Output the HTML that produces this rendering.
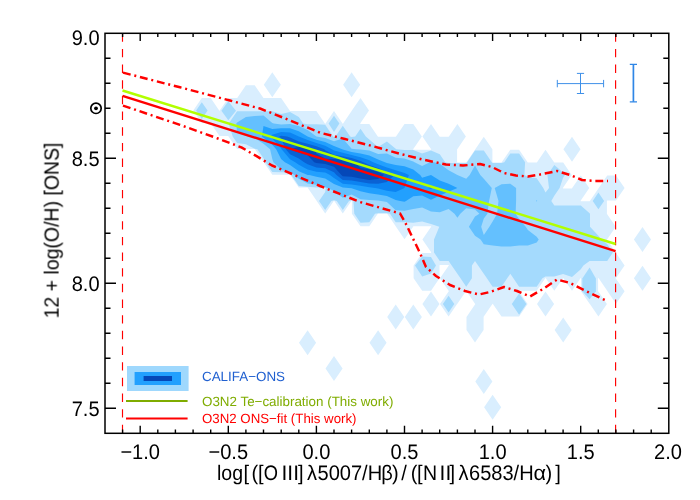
<!DOCTYPE html>
<html><head><meta charset="utf-8"><title>O3N2 calibration</title>
<style>html,body{margin:0;padding:0;background:#fff}svg{display:block}text{font-family:"Liberation Sans",sans-serif;fill:#000;text-rendering:geometricPrecision}</style>
</head><body>
<svg width="700" height="500" viewBox="0 0 700 500">
<rect x="0" y="0" width="700" height="500" fill="#fff"/>
<g stroke="none">
<path fill="#d9eefe" fill-rule="evenodd" d="M263.8 84.8L272.3 72.3L280.9 84.8L272.3 97.3ZM343.1 84.8L351.6 72.3L360.2 84.8L351.6 97.3ZM237.4 97.7L245.9 85.2L254.7 85.2L263.3 97.7L263.5 98.1L272.3 98.1L281.1 98.1L289.7 110.6L290.0 111.0L298.8 111.0L307.6 111.0L316.4 111.0L324.9 123.5L325.2 123.9L325.5 123.5L334.0 111.0L342.6 123.5L342.8 123.9L343.1 123.5L351.6 111.0L351.9 110.6L360.5 98.1L369.0 110.6L360.5 123.1L360.2 123.5L360.5 123.9L369.3 123.9L377.8 136.4L378.1 136.8L386.9 136.8L395.7 136.8L396.0 136.4L404.5 123.9L413.3 123.9L421.9 136.4L413.3 148.9L413.1 149.3L413.3 149.7L422.2 149.7L431.0 149.7L431.2 149.3L431.0 148.9L422.4 136.4L431.0 123.9L439.5 136.4L439.8 136.8L448.6 136.8L448.9 136.4L457.4 123.9L465.9 136.4L457.4 148.9L457.1 149.3L457.1 162.2L457.4 162.6L466.2 162.6L466.5 162.2L475.0 149.7L475.3 149.3L483.8 136.8L492.4 149.3L492.4 162.2L492.6 162.6L501.5 162.6L501.7 162.2L510.3 149.7L519.1 149.7L527.6 162.2L527.9 162.6L536.7 162.6L537.0 162.2L545.5 149.7L554.1 162.2L554.3 162.6L563.2 162.6L571.7 175.1L563.2 187.6L562.9 188.0L563.2 188.4L572.0 188.4L572.2 188.0L580.8 175.5L589.3 188.0L580.8 200.5L580.5 200.9L580.8 201.3L589.6 201.3L589.9 200.9L598.4 188.4L598.7 188.0L607.2 175.5L616.0 175.5L624.6 188.0L616.0 200.5L607.2 200.5L606.9 200.9L606.9 213.8L607.2 214.2L615.8 226.7L607.2 239.2L606.9 239.6L607.2 240.0L615.8 252.5L616.0 252.9L624.6 265.4L616.0 277.9L615.8 278.3L616.0 278.7L624.6 291.2L616.0 303.7L607.5 291.2L607.2 290.8L598.7 278.3L598.4 277.9L598.1 278.3L598.1 291.2L598.4 291.6L606.9 304.1L598.4 316.6L589.9 304.1L589.6 303.7L581.0 291.2L581.0 278.3L580.8 277.9L580.5 278.3L572.0 290.8L563.4 278.3L563.2 277.9L562.9 278.3L554.3 290.8L545.8 278.3L545.5 277.9L545.3 278.3L536.7 290.8L527.9 290.8L519.1 290.8L518.8 291.2L519.1 291.6L527.6 304.1L519.1 316.6L510.3 316.6L501.5 316.6L492.9 304.1L492.6 303.7L492.4 304.1L483.8 316.6L483.6 317.0L483.6 329.9L475.0 342.4L466.5 329.9L466.5 317.0L475.0 304.5L475.3 304.1L475.0 303.7L466.5 291.2L466.2 290.8L465.9 291.2L457.4 303.7L457.1 304.1L448.6 316.6L440.0 304.1L448.6 291.6L448.9 291.2L448.6 290.8L440.0 278.3L448.6 265.8L448.9 265.4L448.6 265.0L439.8 265.0L439.5 265.4L439.5 278.3L431.0 290.8L422.2 290.8L413.6 278.3L413.6 265.4L422.2 252.9L431.0 252.9L431.2 252.5L431.0 252.1L422.4 239.6L431.0 227.1L431.2 226.7L431.0 226.3L422.2 226.3L413.3 226.3L413.1 226.7L404.5 239.2L396.0 226.7L395.7 226.3L387.2 213.8L386.9 213.4L378.1 213.4L377.8 213.8L369.3 226.3L360.5 226.3L351.9 213.8L351.9 200.9L351.6 200.5L351.4 200.9L342.8 213.4L334.3 200.9L334.0 200.5L333.8 200.9L325.2 213.4L316.7 200.9L316.4 200.5L307.9 188.0L307.6 187.6L298.8 187.6L290.2 175.1L290.0 174.7L281.1 174.7L272.3 174.7L263.8 162.2L263.5 161.8L255.0 149.3L254.7 148.9L245.9 148.9L237.1 148.9L228.5 136.4L228.3 136.0L219.5 136.0L210.9 123.5L210.7 123.1L201.8 123.1L193.3 110.6L201.8 98.1L210.7 98.1L219.2 110.6L219.5 111.0L219.7 110.6L228.3 98.1L237.1 98.1ZM325.2 187.6L324.9 188.0L325.2 188.4L325.5 188.0ZM563.4 149.3L572.0 136.8L580.5 149.3L572.0 161.8ZM633.9 239.6L642.5 227.1L651.0 239.6L642.5 252.1ZM633.9 278.3L642.5 265.8L651.0 278.3L642.5 290.8ZM422.4 304.1L431.0 291.6L439.5 304.1L431.0 316.6ZM537.0 304.1L545.5 291.6L554.1 304.1L545.5 316.6ZM387.2 317.0L395.7 304.5L404.3 317.0L395.7 329.5ZM404.8 317.0L413.3 304.5L421.9 317.0L413.3 329.5ZM554.6 329.9L563.2 317.4L571.7 329.9L563.2 342.4ZM299.0 342.8L307.6 330.3L316.1 342.8L307.6 355.3ZM369.5 342.8L378.1 330.3L386.6 342.8L378.1 355.3ZM325.5 368.6L334.0 356.1L342.6 368.6L334.0 381.1ZM475.3 381.5L483.8 369.0L492.4 381.5L483.8 394.0ZM484.1 407.3L492.6 394.8L501.2 407.3L492.6 419.8Z"/>
<path fill="#a4dafd" fill-rule="evenodd" d="M196.1 110.6L201.8 102.2L207.6 110.6L201.8 119.0ZM228.7 123.5L237.1 111.3L245.9 111.3L254.7 111.3L263.5 111.3L272.3 111.3L281.1 113.9L290.0 111.9L298.8 117.1L303.2 123.5L307.6 124.2L316.4 124.2L325.2 124.8L333.1 136.4L334.0 137.1L335.5 136.4L342.8 125.7L350.2 136.4L351.6 137.1L355.2 136.4L360.5 128.7L365.8 136.4L369.3 139.6L378.1 147.1L386.9 141.6L395.7 148.7L396.2 149.3L404.5 150.0L413.3 150.0L422.1 153.4L431.0 150.6L439.8 154.2L445.2 162.2L448.6 162.9L457.4 162.9L466.2 162.9L467.1 162.2L475.0 150.6L483.8 150.6L491.8 162.2L492.6 162.9L501.5 162.9L504.3 162.2L510.3 153.4L519.1 153.4L525.1 162.2L524.4 175.1L527.9 177.0L536.7 178.3L543.3 188.0L545.5 192.5L549.0 188.0L547.4 175.1L554.3 164.9L563.1 172.5L564.9 175.1L563.1 177.7L559.6 188.0L554.3 195.7L551.3 200.9L554.3 205.4L563.1 205.4L572.0 205.4L580.8 205.4L589.6 213.2L590.0 213.8L590.0 226.7L598.4 235.7L601.0 239.6L607.2 244.1L612.9 252.5L607.2 260.9L598.4 260.9L589.6 260.9L583.4 265.4L580.8 269.3L572.0 277.0L563.1 274.0L554.3 276.5L545.5 276.5L542.4 278.3L536.7 286.7L527.9 286.7L519.1 286.7L513.4 278.3L510.3 273.8L507.2 278.3L501.5 286.7L492.6 286.7L486.9 278.3L483.8 273.8L478.1 265.4L475.0 260.9L471.9 265.4L471.9 278.3L466.2 286.7L460.5 278.3L457.4 273.8L451.7 265.4L448.6 260.9L439.8 260.9L434.0 252.5L434.0 239.6L439.3 226.7L431.0 224.1L422.1 221.5L413.3 222.8L404.5 222.2L395.7 222.2L390.0 213.8L386.9 213.2L378.1 213.2L375.0 213.8L369.3 222.2L360.5 222.8L354.3 213.8L353.4 200.9L351.6 200.3L349.0 200.9L342.8 209.9L336.7 200.9L334.0 200.3L331.4 200.9L325.2 209.9L319.0 200.9L325.2 191.9L325.7 188.0L325.2 187.4L316.4 187.4L307.6 186.7L298.8 186.1L291.3 175.1L290.0 172.5L281.1 172.3L272.3 171.9L265.7 162.2L263.5 158.3L257.4 149.3L254.7 148.7L245.9 144.2L237.1 142.9L232.7 136.4ZM592.7 200.9L598.4 192.5L604.1 200.9L598.4 209.3ZM442.9 304.1L448.6 295.7L454.3 304.1L448.6 312.5ZM511.8 304.1L519.1 293.4L526.4 304.1L519.1 314.8Z"/>
<path fill="#64c0fe" fill-rule="evenodd" d="M236.3 123.5L237.1 122.4L245.9 116.9L254.7 115.9L263.5 115.6L272.3 122.9L273.8 123.5L281.1 124.5L290.0 124.0L298.8 126.1L307.6 130.0L316.4 136.4L316.4 136.4L325.2 138.0L334.0 141.2L342.8 138.4L351.6 148.7L356.1 149.3L360.5 149.5L369.3 150.5L378.1 153.9L386.9 153.4L395.7 157.8L404.5 158.5L413.3 161.6L414.5 162.2L422.1 165.9L429.8 162.2L431.0 161.6L433.9 162.2L439.8 163.8L448.6 170.3L457.4 175.1L457.4 175.1L466.2 178.8L469.7 175.1L475.0 165.4L480.3 175.1L483.8 178.8L491.8 188.0L489.1 200.9L487.4 213.8L483.8 218.5L481.2 226.7L483.8 234.9L489.4 226.7L492.6 221.5L497.1 213.8L498.5 200.9L494.7 188.0L501.5 184.3L510.3 183.7L516.1 188.0L516.1 200.9L515.6 213.8L519.1 219.0L525.7 226.7L527.9 229.9L536.7 236.7L538.7 239.6L536.7 242.5L527.9 245.6L519.1 245.6L510.3 246.5L501.5 246.5L492.6 245.6L483.8 244.3L480.6 239.6L475.0 235.7L468.9 226.7L475.0 216.4L479.4 213.8L475.0 209.5L466.2 208.3L460.3 213.8L457.4 217.7L454.5 213.8L448.6 209.0L439.8 212.2L431.0 211.5L422.1 207.4L413.3 209.0L404.5 210.7L395.7 210.2L386.9 202.1L381.0 200.9L378.1 200.6L369.3 199.9L360.5 199.3L351.6 194.6L342.8 197.7L334.0 191.0L327.4 188.0L325.2 187.2L316.4 184.8L307.6 183.6L298.8 178.8L294.4 175.1L290.0 172.2L281.1 169.7L273.4 162.2L272.3 159.0L270.1 149.3L263.5 143.8L254.7 138.1L248.1 136.4L245.9 135.8L237.1 132.1ZM536.2 200.9L536.7 200.0L537.2 200.9L536.7 201.6Z"/>
<path fill="#22a0fe" fill-rule="evenodd" d="M261.8 136.4L263.5 126.1L272.3 129.0L281.1 128.2L290.0 128.3L298.8 131.3L307.6 136.4L307.6 136.4L316.4 139.7L325.2 141.9L334.0 146.0L342.2 149.3L342.8 149.5L351.6 152.1L360.5 153.4L369.3 155.4L378.1 159.5L384.9 162.2L386.9 162.9L395.7 164.9L404.5 166.2L413.3 169.6L420.2 175.1L422.1 177.7L431.0 175.1L439.8 180.6L448.6 183.7L457.4 188.0L448.6 191.7L439.8 195.4L431.0 199.8L422.1 195.4L413.3 196.3L406.0 200.9L404.5 201.8L400.1 200.9L395.7 200.1L386.9 196.1L378.1 194.6L369.3 193.3L360.5 191.2L351.6 188.3L348.7 188.0L342.8 187.6L334.0 183.9L325.2 178.6L316.4 176.7L309.3 175.1L307.6 174.9L298.8 171.2L290.0 165.1L284.9 162.2L281.1 159.0L276.2 149.3L272.3 144.8L263.5 137.7Z"/>
<path fill="#0c84f2" fill-rule="evenodd" d="M269.9 136.4L272.3 134.7L281.1 131.9L290.0 132.6L298.8 136.4L298.8 136.4L307.6 140.1L316.4 143.0L325.2 145.8L331.8 149.3L334.0 150.6L342.8 152.8L351.6 155.1L360.5 157.2L369.3 160.3L373.2 162.2L378.1 164.2L386.9 167.6L395.7 170.3L404.5 173.1L408.9 175.1L404.5 188.0L404.5 188.0L395.7 192.0L386.9 190.7L378.1 188.6L375.1 188.0L369.3 187.3L360.5 185.8L351.6 184.4L342.8 183.8L334.0 178.0L330.0 175.1L325.2 172.5L316.4 171.7L307.6 169.6L298.8 164.8L295.2 162.2L290.0 159.2L281.6 149.3L281.1 148.3L272.3 138.4ZM428.0 188.0L431.0 186.8L432.2 188.0L431.0 189.1Z"/>
<path fill="#0a62d4" fill-rule="evenodd" d="M279.2 136.4L281.1 135.7L287.0 136.4L290.0 137.6L298.8 141.6L307.6 143.8L316.4 146.3L324.3 149.3L325.2 150.2L334.0 154.7L342.8 156.2L351.6 158.1L360.5 161.1L363.4 162.2L369.3 164.9L378.1 168.1L386.9 172.3L394.5 175.1L386.9 182.1L378.1 183.7L369.3 183.6L360.5 182.1L351.6 180.5L342.8 180.0L336.5 175.1L334.0 172.3L325.2 168.2L316.4 167.4L307.6 164.3L304.1 162.2L298.8 158.5L290.0 154.3L285.8 149.3L281.1 138.4Z"/>
<path fill="#0548b8" fill-rule="evenodd" d="M290.0 149.3L298.8 146.7L307.6 147.5L314.9 149.3L316.4 153.6L325.2 158.8L334.0 158.9L342.8 159.5L351.6 161.0L354.9 162.2L360.5 167.9L369.3 169.3L378.1 172.0L384.0 175.1L378.1 178.9L369.3 179.9L360.5 178.4L351.6 176.7L342.8 176.3L341.4 175.1L334.0 166.7L325.2 163.9L316.4 163.1L314.2 162.2L307.6 155.2L298.8 152.4Z"/>
<polygon fill="#a4dafd" points="221.4,110.7 228.3,101.2 236.0,110.7 228.3,120.3"/>
<polygon fill="#a4dafd" points="328.6,123.5 334.0,115.7 339.4,123.5 334.0,132.0"/>
<polygon fill="#a4dafd" points="415.0,265.4 422.2,256.4 431.0,257.0 436.0,265.4 431.0,273.6 422.2,276.4"/>
<polygon fill="#a4dafd" points="589.6,267.5 582.3,278.4 582.3,291.2 589.6,299.2 595.9,291.2 595.9,278.4"/>
</g>
<g fill="none" stroke="#ff0000" stroke-width="2.45" stroke-dasharray="7.9 3.8 2.0 3.8" stroke-dashoffset="-0.5" stroke-linejoin="round"><path d="M122.5 72.5L180.0 87.3L230.0 100.5L260.0 108.5L284.0 118.0L320.0 132.7L345.0 139.0L372.0 146.0L400.0 153.8L423.0 159.6L446.0 164.5L463.0 165.5L480.0 164.0L492.0 167.0L504.0 173.0L516.0 175.5L528.0 176.5L540.0 174.5L557.0 171.0L570.0 175.0L582.0 180.0L595.0 181.0L608.0 181.0"/><path d="M122.5 105.4L180.0 124.9L215.0 137.4L241.4 147.4L257.0 156.4L272.0 165.5L292.0 174.0L320.0 186.0L360.0 202.0L400.0 213.4L405.0 222.0L420.0 253.0L426.0 267.0L436.0 276.0L450.0 285.0L465.0 291.0L479.0 294.5L490.0 292.0L504.0 287.0L517.0 291.0L530.0 296.5L543.0 289.0L557.0 279.5L570.0 283.0L590.0 293.0L607.0 301.0"/></g>
<g fill="none" stroke="#ff0000" stroke-width="1.15" stroke-dasharray="8.4 7.26"><path d="M122.5 33.3V433.3"/><path d="M615.6 33.3V433.3"/></g>
<path d="M122.5 95.9L615.6 251.2" stroke="#ff0000" stroke-width="2.45" fill="none"/>
<path d="M122.5 90.5L615.6 244.0" stroke="#b2ff00" stroke-width="2.45" fill="none"/>
<g fill="none" stroke="#3f90e8" stroke-width="1.0"><path d="M557.3 83.6H603.6M557.3 79.9V87.3M603.6 79.9V87.3M580.5 73.4V93.5M576.9 73.4H584.1M576.9 93.5H584.1"/></g>
<g fill="none" stroke="#2f86e6" stroke-width="1.7"><path d="M633.4 64.4V101.8"/><path d="M629.8 64.4H637M629.8 101.8H637" stroke-width="1.2"/></g>
<g stroke="#000" stroke-width="1.5" fill="none" stroke-linecap="square">
<rect x="105.0" y="33.3" width="563.8" height="400.0"/>
</g>
<g stroke="#000" stroke-width="1.4" fill="none">
<path d="M122.6 433.3v-3.8M122.6 33.3v3.8M140.2 433.3v-7.6M140.2 33.3v7.6M157.8 433.3v-3.8M157.8 33.3v3.8M175.4 433.3v-3.8M175.4 33.3v3.8M193.1 433.3v-3.8M193.1 33.3v3.8M210.7 433.3v-3.8M210.7 33.3v3.8M228.3 433.3v-7.6M228.3 33.3v7.6M245.9 433.3v-3.8M245.9 33.3v3.8M263.5 433.3v-3.8M263.5 33.3v3.8M281.2 433.3v-3.8M281.2 33.3v3.8M298.8 433.3v-3.8M298.8 33.3v3.8M316.4 433.3v-7.6M316.4 33.3v7.6M334.0 433.3v-3.8M334.0 33.3v3.8M351.6 433.3v-3.8M351.6 33.3v3.8M369.3 433.3v-3.8M369.3 33.3v3.8M386.9 433.3v-3.8M386.9 33.3v3.8M404.5 433.3v-7.6M404.5 33.3v7.6M422.1 433.3v-3.8M422.1 33.3v3.8M439.7 433.3v-3.8M439.7 33.3v3.8M457.4 433.3v-3.8M457.4 33.3v3.8M475.0 433.3v-3.8M475.0 33.3v3.8M492.6 433.3v-7.6M492.6 33.3v7.6M510.2 433.3v-3.8M510.2 33.3v3.8M527.8 433.3v-3.8M527.8 33.3v3.8M545.5 433.3v-3.8M545.5 33.3v3.8M563.1 433.3v-3.8M563.1 33.3v3.8M580.7 433.3v-7.6M580.7 33.3v7.6M598.3 433.3v-3.8M598.3 33.3v3.8M615.9 433.3v-3.8M615.9 33.3v3.8M633.6 433.3v-3.8M633.6 33.3v3.8M651.2 433.3v-3.8M651.2 33.3v3.8M105.0 408.3h11.0M668.8 408.3h-11.0M105.0 383.3h5.5M668.8 383.3h-5.5M105.0 358.3h5.5M668.8 358.3h-5.5M105.0 333.3h5.5M668.8 333.3h-5.5M105.0 308.3h5.5M668.8 308.3h-5.5M105.0 283.3h11.0M668.8 283.3h-11.0M105.0 258.3h5.5M668.8 258.3h-5.5M105.0 233.3h5.5M668.8 233.3h-5.5M105.0 208.3h5.5M668.8 208.3h-5.5M105.0 183.3h5.5M668.8 183.3h-5.5M105.0 158.3h11.0M668.8 158.3h-11.0M105.0 133.3h5.5M668.8 133.3h-5.5M105.0 108.3h5.5M668.8 108.3h-5.5M105.0 83.3h5.5M668.8 83.3h-5.5M105.0 58.3h5.5M668.8 58.3h-5.5"/>
</g>
<g style="will-change:transform">
<text transform="translate(140.2,458.7) scale(0.955,1)" font-size="21px" text-anchor="middle">−1.0</text>
<text transform="translate(228.3,458.7) scale(0.955,1)" font-size="21px" text-anchor="middle">−0.5</text>
<text transform="translate(316.4,458.7) scale(0.955,1)" font-size="21px" text-anchor="middle">0.0</text>
<text transform="translate(404.5,458.7) scale(0.955,1)" font-size="21px" text-anchor="middle">0.5</text>
<text transform="translate(492.6,458.7) scale(0.955,1)" font-size="21px" text-anchor="middle">1.0</text>
<text transform="translate(580.7,458.7) scale(0.955,1)" font-size="21px" text-anchor="middle">1.5</text>
<text transform="translate(668.0,458.7) scale(0.955,1)" font-size="21px" text-anchor="middle">2.0</text>
<text transform="translate(99.6,45.3) scale(0.955,1)" font-size="21px" text-anchor="end">9.0</text>
<text transform="translate(99.6,165.8) scale(0.955,1)" font-size="21px" text-anchor="end">8.5</text>
<text transform="translate(99.6,290.8) scale(0.955,1)" font-size="21px" text-anchor="end">8.0</text>
<text transform="translate(99.6,415.8) scale(0.955,1)" font-size="21px" text-anchor="end">7.5</text>
</g>
<circle cx="96.0" cy="108.3" r="5.2" fill="none" stroke="#000" stroke-width="1.7"/><circle cx="96.0" cy="108.3" r="1.9" fill="#000"/>
<g style="will-change:transform">
<text transform="translate(217.0,480.0) scale(0.930,1)" font-size="21px">log</text>
<text transform="translate(243.4,480.0) scale(0.955,1)" font-size="21px">[</text>
<text transform="translate(251.5,480.0) scale(0.955,1)" font-size="21px">(</text>
<text transform="translate(258.0,480.0) scale(0.955,1)" font-size="21px">[</text>
<text transform="translate(263.8,480.0) scale(0.870,1)" font-size="21px">O</text>
<text transform="translate(281.5,480.0) scale(1.000,1)" font-size="21px">III</text>
<text transform="translate(298.0,480.0) scale(0.955,1)" font-size="21px">]</text>
<text transform="translate(307.0,480.0) scale(0.955,1)" font-size="21px">λ</text>
<text transform="translate(317.5,480.0) scale(0.955,1)" font-size="21px">5007/H</text>
<text transform="translate(381.3,480.0) scale(0.955,1)" font-size="21px">β</text>
<text transform="translate(392.0,480.0) scale(0.955,1)" font-size="21px">)</text>
<text transform="translate(401.3,480.0) scale(0.955,1)" font-size="21px">/</text>
<text transform="translate(410.8,480.0) scale(0.955,1)" font-size="21px">(</text>
<text transform="translate(417.0,480.0) scale(0.955,1)" font-size="21px">[</text>
<text transform="translate(423.0,480.0) scale(0.930,1)" font-size="21px">N</text>
<text transform="translate(439.6,480.0) scale(1.000,1)" font-size="21px">II</text>
<text transform="translate(449.5,480.0) scale(0.955,1)" font-size="21px">]</text>
<text transform="translate(458.5,480.0) scale(0.955,1)" font-size="21px">λ</text>
<text transform="translate(469.0,480.0) scale(0.955,1)" font-size="21px">6583/H</text>
<text transform="translate(533.5,480.0) scale(1.030,1)" font-size="21px">α</text>
<text transform="translate(545.6,480.0) scale(0.955,1)" font-size="21px">)</text>
<text transform="translate(555.2,480.0) scale(0.955,1)" font-size="21px">]</text>
<text transform="translate(58.6,230.5) rotate(-90) scale(0.945,1)" font-size="20.6px" text-anchor="middle">12 + log(O/H) [ONS]</text>
</g>
<rect x="127" y="366" width="61.6" height="25" fill="#9fd8fd"/>
<rect x="134.6" y="372" width="46.4" height="13" fill="#22a0fe"/>
<rect x="143.6" y="376" width="28.4" height="5" fill="#0548b8"/>
<path d="M126 401H187.6" stroke="#7fac00" stroke-width="2.0"/>
<path d="M126 418.4H187.6" stroke="#ff0000" stroke-width="2.0"/>
<g font-size="13.4px" style="will-change:transform"><text x="202" y="381" style="fill:#2060d0">CALIFA−ONS</text><text x="202" y="405.5" style="fill:#7fac00">O3N2 Te−calibration (This work)</text><text transform="translate(202,422.5) scale(0.991,1)" style="fill:#ff0000">O3N2 ONS−fit (This work)</text></g>
</svg>
</body></html>
